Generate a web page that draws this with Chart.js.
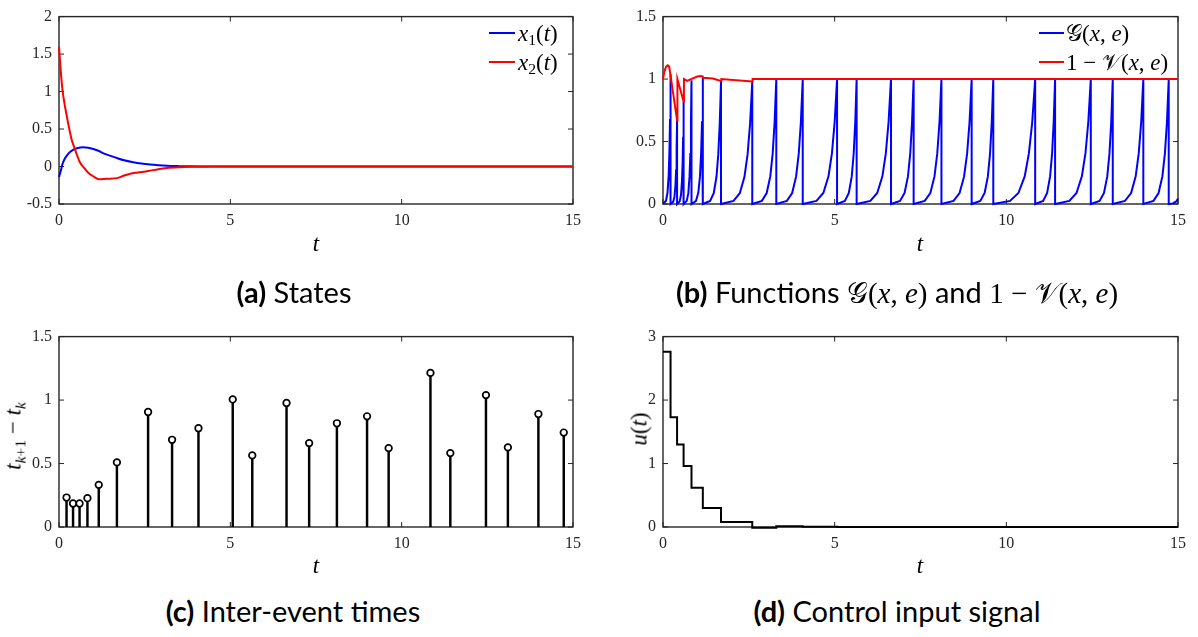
<!DOCTYPE html>
<html><head><meta charset="utf-8">
<script src="https://cdn.jsdelivr.net/npm/chart.js@4.4.1/dist/chart.umd.min.js"></script>
<style>
html,body{margin:0;padding:0;background:#fff}
body{width:1198px;height:637px;position:relative;overflow:hidden}
canvas{position:absolute}
.m{font-family:'Liberation Serif','DejaVu Serif',serif;color:#000}
.ax{position:absolute;font-family:'Liberation Serif',serif;font-style:italic;font-size:23px;transform:translate(-50%,-50%);white-space:nowrap;line-height:1}
.yl{position:absolute;font-family:'Liberation Serif',serif;font-size:23px;transform:translate(-50%,-50%) rotate(-90deg);white-space:nowrap;line-height:1}
.leg{position:absolute;font-family:'Liberation Serif',serif;font-size:23px;white-space:nowrap;line-height:1;transform:translateY(-50%)}
.ln{position:absolute;height:0;border-top:2px solid}
.cap{position:absolute;text-align:center;font-family:'Lato',sans-serif;font-size:29px;line-height:34px;white-space:nowrap;color:#000}
.cap b{font-weight:700}
sub{font-size:0.68em;vertical-align:-0.3em;line-height:0}
</style></head>
<body>
<canvas id="ca" width="600" height="260" style="left:0;top:0"></canvas>
<canvas id="cb" width="598" height="260" style="left:600px;top:0"></canvas>
<canvas id="cc" width="600" height="260" style="left:0;top:320px"></canvas>
<canvas id="cd" width="598" height="260" style="left:600px;top:320px"></canvas>

<!-- axis titles -->
<div class="ax" style="left:316px;top:243px">t</div>
<div class="ax" style="left:920px;top:243px">t</div>
<div class="ax" style="left:316px;top:565px">t</div>
<div class="ax" style="left:920px;top:565px">t</div>
<div class="yl" style="left:13px;top:436px"><i>t</i><sub><i>k</i>+1</sub> &minus; <i>t</i><sub><i>k</i></sub></div>
<div class="yl" style="left:639px;top:429px"><i>u</i>(<i>t</i>)</div>

<!-- legends -->
<div class="ln" style="left:489px;top:32px;width:26px;border-color:#0000ff"></div>
<div class="leg" style="left:518px;top:33px"><i>x</i><sub>1</sub>(<i>t</i>)</div>
<div class="ln" style="left:489px;top:61px;width:26px;border-color:#ff0000"></div>
<div class="leg" style="left:518px;top:62px"><i>x</i><sub>2</sub>(<i>t</i>)</div>
<div class="ln" style="left:1039px;top:32px;width:25px;border-color:#0000ff"></div>
<div class="leg" style="left:1066px;top:33px">𝒢(<i>x</i>, <i>e</i>)</div>
<div class="ln" style="left:1039px;top:61px;width:25px;border-color:#ff0000"></div>
<div class="leg" style="left:1066px;top:62px">1 &minus; 𝒱(<i>x</i>, <i>e</i>)</div>

<!-- captions -->
<div class="cap" style="left:-6px;top:275px;width:600px"><b>(a)</b> States</div>
<div class="cap" style="left:597px;top:275px;width:600px"><b>(b)</b> Functions <span class="m">𝒢(<i>x</i>, <i>e</i>)</span> and <span class="m">1 &minus; 𝒱(<i>x</i>, <i>e</i>)</span></div>
<div class="cap" style="left:-7px;top:594px;width:600px"><b>(c)</b> Inter-event times</div>
<div class="cap" style="left:597px;top:594px;width:600px"><b>(d)</b> Control input signal</div>

<script>
// ---------- data ----------
// (a) states
const x1T = [0,0.05,0.1,0.175,0.25,0.33,0.42,0.55,0.7,0.85,1.0,1.15,1.3,1.5,1.69,1.9,2.17,2.4,2.66,2.9,3.15,3.5,3.83,4.3,5,15];
const x1V = [-0.14,-0.06,0.03,0.11,0.16,0.197,0.226,0.248,0.256,0.25,0.233,0.21,0.176,0.143,0.113,0.083,0.057,0.04,0.026,0.017,0.01,0.005,0.002,0.001,0,0];
const x2T = [0,0.05,0.1,0.16,0.22,0.3,0.38,0.45,0.52,0.61,0.7,0.86,1.0,1.16,1.4,1.69,1.9,2.08,2.3,2.6,2.9,3.15,3.5,4.0,4.5,5,15];
const x2V = [1.6,1.28,1.03,0.84,0.69,0.5,0.34,0.25,0.16,0.057,0.0,-0.087,-0.13,-0.17,-0.163,-0.155,-0.12,-0.096,-0.08,-0.06,-0.035,-0.02,-0.01,-0.004,-0.001,0,0];

// (b) G(x,e) and 1 - V(x,e)
const gT = [0,
 0.088,0.132,0.165,0.187,0.205,0.22,0.22,
 0.296,0.334,0.3625,0.3815,0.3967,0.41,0.41,
 0.486,0.524,0.5525,0.5715,0.5867,0.60,0.60,
 0.692,0.738,0.7725,0.7955,0.8139,0.83,0.83,
 0.962,1.028,1.0775,1.1105,1.1369,1.16,1.16,
 1.372,1.478,1.5575,1.6105,1.6529,1.69,1.69,
 2.054,2.236,2.3725,2.4635,2.5363,2.60,2.60,
 2.88,3.02,3.125,3.195,3.251,3.30,3.30,
 3.608,3.762,3.8775,3.9545,4.0161,4.07,4.07,
 4.47,4.67,4.82,4.92,5.0,5.07,5.07,
 5.298,5.412,5.4975,5.5545,5.6001,5.64,5.64,
 6.04,6.24,6.39,6.49,6.57,6.64,6.64,
 6.904,7.036,7.135,7.201,7.2538,7.30,7.30,
 7.624,7.786,7.9075,7.9885,8.0533,8.11,8.11,
 8.462,8.638,8.77,8.858,8.9284,8.99,8.99,
 9.242,9.368,9.4625,9.5255,9.5759,9.62,9.62,
 10.108,10.352,10.535,10.657,10.7546,10.84,10.84,
 11.072,11.188,11.275,11.333,11.3794,11.42,11.42,
 11.836,12.044,12.2,12.304,12.3872,12.46,12.46,
 12.716,12.844,12.94,13.004,13.0552,13.10,13.10,
 13.456,13.634,13.7675,13.8565,13.9277,13.99,13.99,
 14.286,14.434,14.545,14.619,14.6782,14.73,14.73,
 14.85,14.95,15];
const gV = [0,
 0.026,0.092,0.23,0.42,0.68,1.04,0,
 0.017,0.059,0.148,0.271,0.44,0.67,0,
 0.021,0.072,0.181,0.332,0.538,0.82,0,
 0.025,0.087,0.219,0.401,0.649,0.99,0,
 0.025,0.089,0.223,0.409,0.663,1.01,0,
 0.025,0.087,0.218,0.399,0.646,0.985,0,
 0.025,0.086,0.217,0.397,0.643,0.98,0,
 0.025,0.088,0.221,0.405,0.656,1,0,
 0.025,0.088,0.221,0.405,0.656,1,0,
 0.025,0.088,0.221,0.405,0.656,1,0,
 0.025,0.088,0.221,0.405,0.656,1,0,
 0.025,0.088,0.221,0.405,0.656,1,0,
 0.025,0.088,0.221,0.405,0.656,1,0,
 0.025,0.088,0.221,0.405,0.656,1,0,
 0.025,0.088,0.221,0.405,0.656,1,0,
 0.025,0.088,0.221,0.405,0.656,1,0,
 0.025,0.088,0.221,0.405,0.656,1,0,
 0.025,0.088,0.221,0.405,0.656,1,0,
 0.025,0.088,0.221,0.405,0.656,1,0,
 0.025,0.088,0.221,0.405,0.656,1,0,
 0.025,0.088,0.221,0.405,0.656,1,0,
 0.025,0.088,0.221,0.405,0.656,1,0,
 0.005,0.02,0.045];
const vT = [0,0.04,0.09,0.14,0.18,0.22,0.41,0.42,0.60,0.61,0.70,0.82,1.0,1.1,1.16,1.17,1.45,1.69,1.70,2.60,2.61,15];
const vV = [1.0,1.06,1.10,1.11,1.10,1.03,0.67,1.0,0.82,1.0,0.985,1.0,1.02,1.025,1.02,1.01,1.005,0.985,1.0,0.98,1.0,1.0];

// (c) inter-event times
const eventT = [0.22,0.41,0.60,0.83,1.16,1.69,2.60,3.30,4.07,5.07,5.64,6.64,7.30,8.11,8.99,9.62,10.84,11.42,12.46,13.10,13.99,14.73];
const interEvent = [0.232,0.185,0.185,0.227,0.332,0.509,0.906,0.687,0.778,1.005,0.564,0.977,0.661,0.817,0.872,0.621,1.214,0.582,1.039,0.627,0.890,0.744];

// (d) control input (held between events)
const uT = [0,0.22,0.41,0.60,0.83,1.16,1.69,2.60,3.30,4.07,5.07,15];
const uV = [2.76,1.73,1.30,0.96,0.62,0.30,0.08,-0.012,0.012,0.004,0.0,0.0];

// tick labels
const xTicks = [0,5,10,15];
const yTicksA = [-0.5,0,0.5,1,1.5,2];
const yTicksB = [0,0.5,1,1.5];
const yTicksC = [0,0.5,1,1.5];
const yTicksD = [0,1,2,3];

// ---------- helpers ----------
const pts = (T, V) => T.map((t, i) => ({x: t, y: V[i]}));
const AX = '#262626';
const tickFont = {family: "'Liberation Serif', serif", size: 16};

const boxPlugin = {
  id: 'mbox',
  beforeDatasetsDraw(chart) {
    const {ctx, chartArea: a} = chart;
    const xs = chart.scales.x, ys = chart.scales.y;
    const L = 5;
    ctx.save();
    ctx.strokeStyle = AX;
    ctx.lineWidth = 1;
    ctx.beginPath();
    xs.ticks.forEach(t => {
      const p = xs.getPixelForValue(t.value);
      ctx.moveTo(p, a.bottom); ctx.lineTo(p, a.bottom - L);
      ctx.moveTo(p, a.top); ctx.lineTo(p, a.top + L);
    });
    ys.ticks.forEach(t => {
      const p = ys.getPixelForValue(t.value);
      ctx.moveTo(a.left, p); ctx.lineTo(a.left + L, p);
      ctx.moveTo(a.right, p); ctx.lineTo(a.right - L, p);
    });
    ctx.stroke();
    ctx.lineWidth = 1.4;
    ctx.strokeRect(a.left, a.top, a.right - a.left, a.bottom - a.top);
    ctx.restore();
  }
};

function opts(area, W, H, yTicks) {
  return {
    responsive: false, animation: false, devicePixelRatio: 1,
    layout: {padding: {left: 0, top: area.top, right: W - area.right, bottom: 0}},
    plugins: {legend: {display: false}, tooltip: {enabled: false}},
    scales: {
      x: {
        type: 'linear', min: xTicks[0], max: xTicks[xTicks.length - 1], offset: false,
        grid: {display: false, drawTicks: false}, border: {display: false},
        afterBuildTicks: s => { s.ticks = xTicks.map(v => ({value: v})); },
        ticks: {padding: 7, color: AX, font: tickFont, maxRotation: 0, autoSkip: false, callback: v => String(v)},
        afterFit: s => { s.height = H - area.bottom; }
      },
      y: {
        type: 'linear', min: yTicks[0], max: yTicks[yTicks.length - 1],
        grid: {display: false, drawTicks: false}, border: {display: false},
        afterBuildTicks: s => { s.ticks = yTicks.map(v => ({value: v})); },
        ticks: {padding: 7, color: AX, font: tickFont, autoSkip: false, callback: v => String(v)},
        afterFit: s => { s.width = area.left; }
      }
    }
  };
}

// (a)
new Chart(document.getElementById('ca'), {
  type: 'line',
  data: {datasets: [
    {data: pts(x2T, x2V), borderColor: '#ff0000', borderWidth: 2, pointRadius: 0, cubicInterpolationMode: 'monotone', clip: 4},
    {data: pts(x1T, x1V), borderColor: '#0000ff', borderWidth: 2, pointRadius: 0, cubicInterpolationMode: 'monotone', clip: 4}
  ]},
  options: opts({left: 59, top: 13, right: 573, bottom: 204}, 600, 260, yTicksA),
  plugins: [boxPlugin]
});

// (b)
new Chart(document.getElementById('cb'), {
  type: 'line',
  data: {datasets: [
    {data: pts(vT, vV), borderColor: '#ff0000', borderWidth: 2, pointRadius: 0, tension: 0, clip: 4},
    {data: pts(gT, gV), borderColor: '#0000ff', borderWidth: 2, pointRadius: 0, tension: 0, clip: 4}
  ]},
  options: opts({left: 63, top: 13, right: 578, bottom: 204}, 598, 260, yTicksB),
  plugins: [boxPlugin]
});

// (c)
new Chart(document.getElementById('cc'), {
  type: 'bar',
  data: {datasets: [
    {type: 'scatter', data: pts(eventT, interEvent), pointStyle: 'circle', pointRadius: 3.3, borderWidth: 1.7,
     borderColor: '#000', backgroundColor: '#fff', order: 1},
    {type: 'bar', data: pts(eventT, interEvent), backgroundColor: '#000', barThickness: 1.8, order: 2}
  ]},
  options: opts({left: 59, top: 16, right: 573, bottom: 207}, 600, 260, yTicksC),
  plugins: [boxPlugin]
});

// (d)
new Chart(document.getElementById('cd'), {
  type: 'line',
  data: {datasets: [
    {data: pts(uT, uV), borderColor: '#000', borderWidth: 2, pointRadius: 0, stepped: 'before', clip: 4},
    
  ]},
  options: opts({left: 63, top: 16, right: 578, bottom: 207}, 598, 260, yTicksD),
  plugins: [boxPlugin]
});
</script>
</body></html>
